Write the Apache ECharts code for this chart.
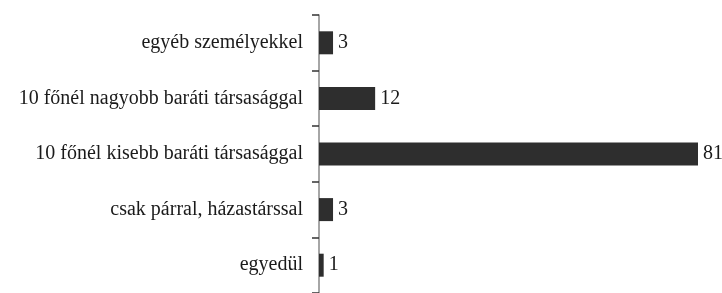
<!DOCTYPE html>
<html>
<head>
<meta charset="utf-8">
<script src="https://cdn.jsdelivr.net/npm/echarts@6/dist/echarts.min.js"></script>
<style>
  html, body { margin: 0; padding: 0; background: #fff; }
  #chart { width: 722px; height: 293px; }
</style>
</head>
<body>
<div id="chart"></div>
<script>
var chart = echarts.init(document.getElementById('chart'), null, { renderer: 'canvas' });

// alulrol felfele
var categories = ['egyedül', 'csak párral, házastárssal', '10 főnél kisebb baráti társasággal',
    '10 főnél nagyobb baráti társasággal', 'egyéb személyekkel'];
var values = [1, 3, 81, 12, 3];

var font = '"Palatino Linotype", "Book Antiqua", Palatino, "Liberation Serif", serif';

chart.setOption({
    animation: false,
    grid: {
        left: 319,
        right: 24,
        top: 15,
        bottom: -5,
        containLabel: false
    },
    xAxis: {
        type: 'value',
        min: 0,
        max: 81,
        show: false
    },
    yAxis: {
        type: 'category',
        data: categories,
        axisLine: { show: true, lineStyle: { color: '#888', width: 1.5 } },
        axisTick: { show: true, length: 7, lineStyle: { color: '#333', width: 1.5 } },
        axisLabel: {
            margin: 16,
            color: '#1a1a1a',
            fontSize: 20,
            fontFamily: font
        }
    },
    series: [{
        type: 'bar',
        data: values,
        barWidth: 23,
        itemStyle: { color: '#2e2e2e' },
        label: {
            show: true,
            position: 'right',
            distance: 5,
            color: '#1a1a1a',
            fontSize: 20,
            fontFamily: font
        }
    }]
});
</script>
</body>
</html>
